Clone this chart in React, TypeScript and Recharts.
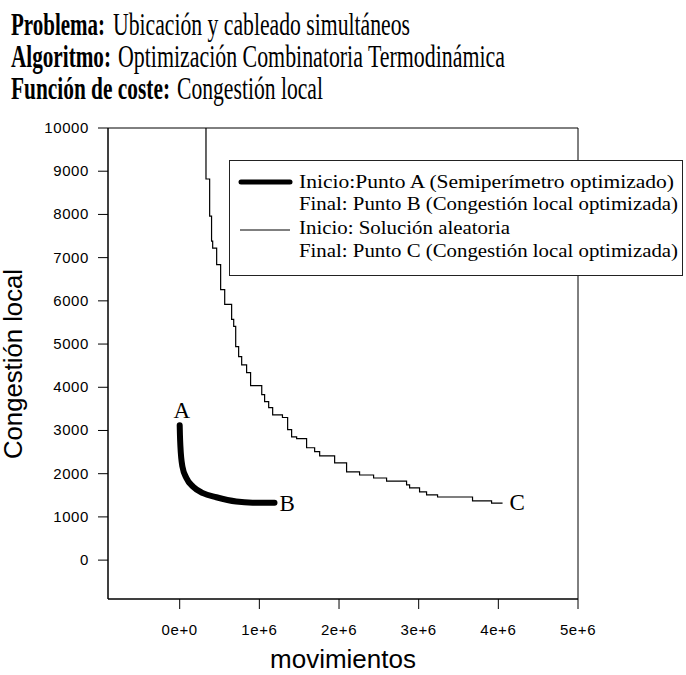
import React from "react";
import {
  LineChart,
  Line,
  XAxis,
  YAxis,
  ReferenceArea,
} from "recharts";

// ---------- data ----------
const titleBold = ["Problema:", "Algoritmo:", "Función de coste:"];
const titleRegular = [
  "Ubicación y cableado simultáneos",
  "Optimización Combinatoria Termodinámica",
  "Congestión local",
];

const legendLines = [
  "Inicio:Punto A (Semiperímetro optimizado)",
  "Final: Punto B (Congestión local optimizada)",
  "Inicio: Solución aleatoria",
  "Final: Punto C (Congestión local optimizada)",
];

const xTicks = [0, 1e6, 2e6, 3e6, 4e6, 5e6];
const yTicks = [0, 1000, 2000, 3000, 4000, 5000, 6000, 7000, 8000, 9000, 10000];

// Series A -> B (thick)
const seriesAX = [0, 3000, 9000, 34000, 84000, 167000, 292000, 460000, 710000, 916000, 1190000];
const seriesAY = [3120, 2900, 2630, 2165, 1900, 1700, 1550, 1455, 1355, 1330, 1330];

// Series random start -> C (thin, stepped)
const seriesCX = [
  330000, 330000, 376000, 400000, 414000, 464000, 514000, 565000, 652000, 678000,
  703000, 740000, 778000, 840000, 890000, 1030000, 1066000, 1117000, 1167000, 1290000,
  1355000, 1405000, 1468000, 1593000, 1694000, 1757000, 1945000, 2095000, 2258000, 2434000,
  2597000, 2848000, 2886000, 3011000, 3099000, 3237000, 3676000, 3915000, 4053000,
];
const seriesCY = [
  11000, 8820, 7960, 7380, 7220, 6840, 6260, 5920, 5570, 5410,
  4940, 4710, 4520, 4340, 4040, 3830, 3670, 3530, 3360, 3300,
  3020, 2850, 2810, 2600, 2510, 2410, 2250, 2040, 1970, 1900,
  1830, 1740, 1670, 1580, 1510, 1460, 1370, 1320, 1320,
];

const pointLabels = ["A", "B", "C"];

const dataA = seriesAX.map((x, i) => ({ x, y: seriesAY[i] }));
const dataC = seriesCX.map((x, i) => ({ x, y: seriesCY[i] }));

// ---------- styles ----------
const SERIF = "'Liberation Serif', 'Times New Roman', serif";
const SANS = "'Liberation Sans', Arial, sans-serif";

const fmtX = (v: number) => (v === 0 ? "0e+0" : `${Math.round(v / 1e6)}e+6`);

const XTick = (props: any) => {
  const { x, y, payload } = props;
  return (
    <text
      x={x}
      y={y}
      dy={10}
      textAnchor="middle"
      fontFamily={SANS}
      fontSize={15}
      letterSpacing={0.6}
      fill="#000"
    >
      {fmtX(payload.value)}
    </text>
  );
};

const YTick = (props: any) => {
  const { x, y, payload } = props;
  return (
    <text
      x={x}
      y={y}
      dy={5}
      textAnchor="end"
      fontFamily={SANS}
      fontSize={15}
      letterSpacing={0.6}
      fill="#000"
    >
      {String(payload.value)}
    </text>
  );
};

const titleBoldLen = [94, 100, 159];
const titleRegX = [113, 118, 177];
const titleRegLen = [297, 387, 146];
const TITLE_FS = 21.5;
const TITLE_SY = 1.49;

const Overlay = () => (
  <svg
    width={686}
    height={675}
    style={{ position: "absolute", left: 0, top: 0, pointerEvents: "none" }}
  >
    {/* title: narrow, tall serif lettering */}
    {[0, 1, 2].map((i) => {
      const by = 35 + i * 32;
      return (
        <g key={i} transform={`translate(0 ${by}) scale(1 ${TITLE_SY}) translate(0 ${-by})`}>
          <text
            x={11}
            y={by}
            fontFamily={SERIF}
            fontSize={TITLE_FS}
            fontWeight="bold"
            fill="#000"
            textLength={titleBoldLen[i]}
            lengthAdjust="spacingAndGlyphs"
          >
            {titleBold[i]}
          </text>
          <text
            x={titleRegX[i]}
            y={by}
            fontFamily={SERIF}
            fontSize={TITLE_FS}
            fill="#000"
            textLength={titleRegLen[i]}
            lengthAdjust="spacingAndGlyphs"
          >
            {titleRegular[i]}
          </text>
        </g>
      );
    })}
    {/* axis titles */}
    <text
      x={343}
      y={668}
      textAnchor="middle"
      fontFamily={SANS}
      fontSize={25}
      fill="#000"
      textLength={146}
      lengthAdjust="spacingAndGlyphs"
    >
      movimientos
    </text>
    <text
      x={22}
      y={364}
      textAnchor="middle"
      transform="rotate(-90, 22, 364)"
      fontFamily={SANS}
      fontSize={25}
      fill="#000"
      textLength={190}
      lengthAdjust="spacingAndGlyphs"
    >
      Congestión local
    </text>
    {/* legend */}
    <rect x={229.5} y={160.5} width={453} height={115} fill="#fff" stroke="#222" strokeWidth={1} />
    <line x1={241} y1={182} x2={290} y2={182} stroke="#000" strokeWidth={5} strokeLinecap="round" />
    <line x1={240} y1={230} x2={290} y2={230} stroke="#000" strokeWidth={1} />
    {legendLines.map((t, i) => (
      <text
        key={i}
        x={299}
        y={[188, 210, 234, 257][i]}
        fontFamily={SERIF}
        fontSize={19}
        fill="#000"
        textLength={[375, 379, 211, 379][i]}
        lengthAdjust="spacingAndGlyphs"
      >
        {t}
      </text>
    ))}
  </svg>
);

const labelA = (props: any) => {
  const { x, y, index } = props;
  if (index === 0)
    return (
      <text x={x + 2} y={y - 7} textAnchor="middle" fontFamily={SERIF} fontSize={23} fill="#000">
        {pointLabels[0]}
      </text>
    );
  if (index === seriesAX.length - 1)
    return (
      <text x={x + 5} y={y + 8} textAnchor="start" fontFamily={SERIF} fontSize={23} fill="#000">
        {pointLabels[1]}
      </text>
    );
  return <g />;
};

const labelC = (props: any) => {
  const { x, y, index } = props;
  if (index === seriesCX.length - 1)
    return (
      <text x={x + 7} y={y + 7} textAnchor="start" fontFamily={SERIF} fontSize={23} fill="#000">
        {pointLabels[2]}
      </text>
    );
  return <g />;
};

export default function App() {
  return (
    <div style={{ position: "absolute", left: 0, top: 0, width: 686, height: 675, background: "#fff" }}>
      <LineChart
        width={686}
        height={675}
        margin={{ top: 128, right: 108, bottom: 36, left: 48 }}
      >
        <XAxis
          type="number"
          dataKey="x"
          domain={[-900000, 5000000]}
          ticks={xTicks}
          allowDataOverflow
          tickSize={10}
          tickMargin={16}
          height={40}
          stroke="#000"
          tick={<XTick />}
          axisLine={{ stroke: "#000" }}
          tickLine={{ stroke: "#000" }}
        />
        <YAxis
          type="number"
          dataKey="y"
          domain={[-900, 10000]}
          ticks={yTicks}
          allowDataOverflow
          tickSize={10}
          tickMargin={9}
          width={60}
          stroke="#000"
          tick={<YTick />}
          axisLine={{ stroke: "#000" }}
          tickLine={{ stroke: "#000" }}
        />
        <ReferenceArea
          x1={-900000}
          x2={5000000}
          y1={-900}
          y2={10000}
          fill="none"
          fillOpacity={0}
          stroke="#000"
          strokeWidth={1}
        />
        <Line
          data={dataC}
          dataKey="y"
          type="stepAfter"
          stroke="#000"
          strokeWidth={1.2}
          dot={false}
          isAnimationActive={false}
          label={labelC}
        />
        <Line
          data={dataA}
          dataKey="y"
          type="monotone"
          stroke="#000"
          strokeWidth={6}
          strokeLinecap="round"
          dot={false}
          isAnimationActive={false}
          label={labelA}
        />
      </LineChart>
      <Overlay />
    </div>
  );
}
